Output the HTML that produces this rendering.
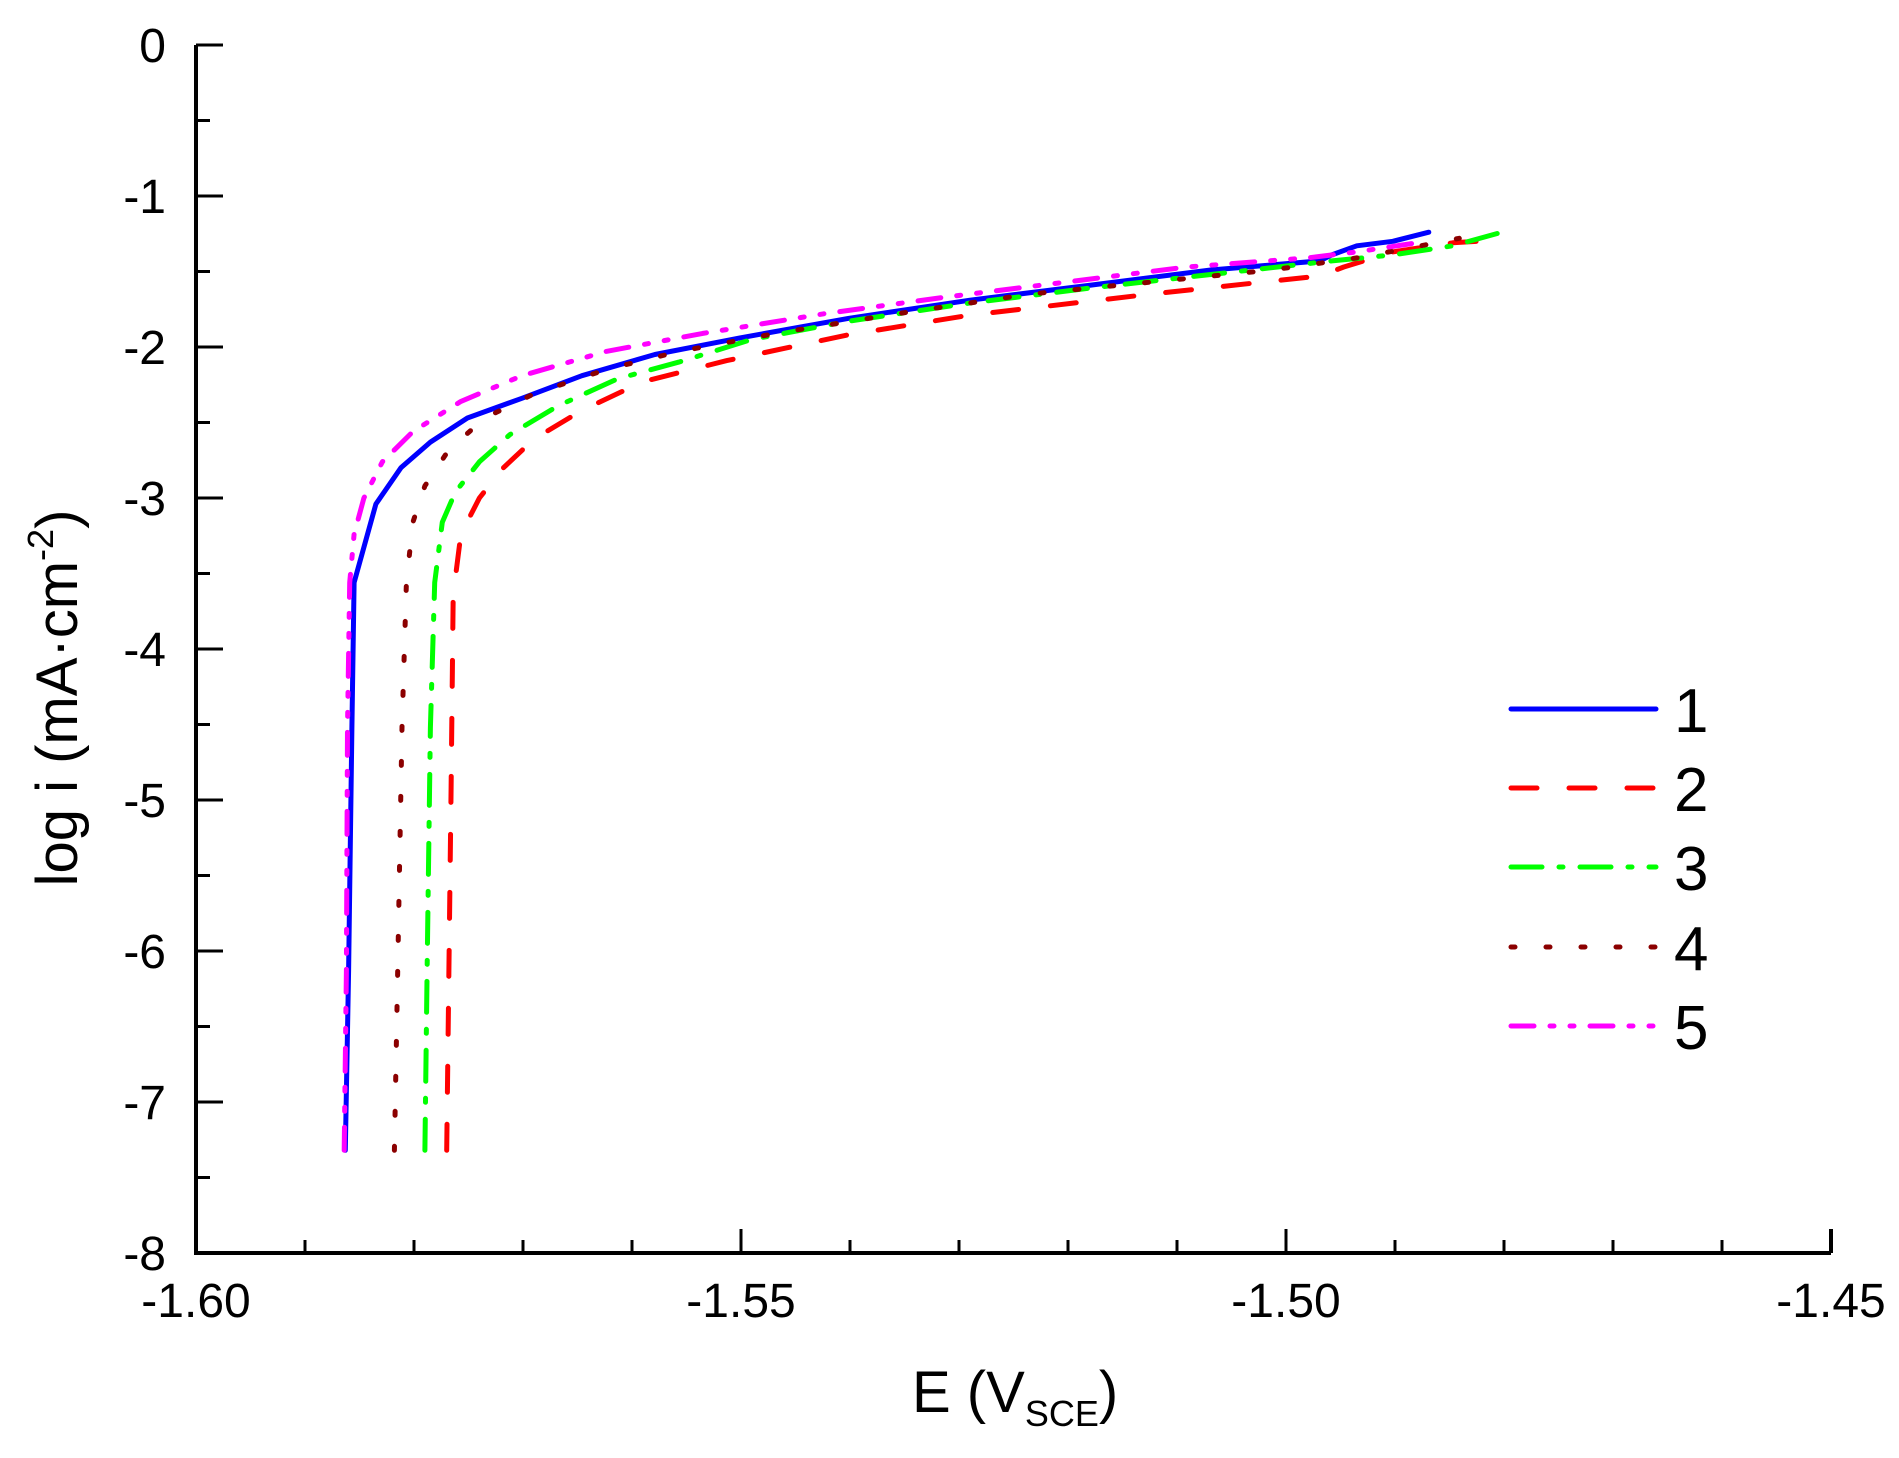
<!DOCTYPE html>
<html><head><meta charset="utf-8"><style>
html,body{margin:0;padding:0;background:#fff;}
svg{display:block;font-family:"Liberation Sans",Arial,sans-serif;}
</style></head><body>
<svg id="chart" width="1899" height="1458" viewBox="0 0 1899 1458">
<g id="axes"></g>
<g id="series"></g>
<g id="legend"></g>
<text x="912" y="1412" font-size="58">E (V<tspan font-size="36" dy="14">SCE</tspan><tspan dy="-14">)</tspan></text>
<text transform="translate(77,698) rotate(-90)" text-anchor="middle" font-size="58">log i (mA·cm<tspan font-size="36" dy="-24">-2</tspan><tspan dy="24">)</tspan></text>
</svg>
<script>
const xTicks = [-1.60, -1.55, -1.50, -1.45];
const xTickLabels = ["-1.60", "-1.55", "-1.50", "-1.45"];
const yTicks = [0, -1, -2, -3, -4, -5, -6, -7, -8];
const yTickLabels = ["0", "-1", "-2", "-3", "-4", "-5", "-6", "-7", "-8"];
const seriesNames = ["1", "2", "3", "4", "5"];
const e1 = [-1.5863,-1.5860,-1.5857,-1.5855,-1.5835,-1.5812,-1.5785,-1.5751,-1.5701,-1.5646,-1.5579,-1.5501,-1.5401,-1.5290,-1.5179,-1.5069,-1.4969,-1.4958,-1.4935,-1.4902,-1.4869];
const i1 = [-7.32,-6.13,-4.52,-3.56,-3.04,-2.80,-2.63,-2.47,-2.34,-2.19,-2.05,-1.94,-1.81,-1.69,-1.59,-1.49,-1.43,-1.39,-1.33,-1.30,-1.24];
const e2 = [-1.5770,-1.5768,-1.5766,-1.5764,-1.5757,-1.5740,-1.5718,-1.5690,-1.5646,-1.5590,-1.5513,-1.5402,-1.5291,-1.5124,-1.4969,-1.4947,-1.4902,-1.4847,-1.4802];
const i2 = [-7.32,-6.13,-4.92,-3.64,-3.24,-3.00,-2.80,-2.61,-2.42,-2.23,-2.09,-1.92,-1.79,-1.65,-1.53,-1.47,-1.37,-1.31,-1.29];
const e3 = [-1.5790,-1.5788,-1.5785,-1.5781,-1.5774,-1.5762,-1.5740,-1.5712,-1.5668,-1.5613,-1.5557,-1.5490,-1.5402,-1.5291,-1.5180,-1.5069,-1.4958,-1.4902,-1.4847,-1.4797];
const i3 = [-7.32,-6.13,-4.52,-3.56,-3.16,-2.96,-2.76,-2.58,-2.39,-2.21,-2.10,-1.95,-1.83,-1.71,-1.61,-1.52,-1.43,-1.39,-1.33,-1.23];
const e4 = [-1.5818,-1.5815,-1.5811,-1.5807,-1.5801,-1.5790,-1.5768,-1.5735,-1.5690,-1.5624,-1.5557,-1.5468,-1.5357,-1.5235,-1.5124,-1.5013,-1.4935,-1.4891,-1.4841];
const i4 = [-7.32,-6.13,-4.52,-3.56,-3.16,-2.92,-2.68,-2.47,-2.31,-2.15,-2.03,-1.91,-1.78,-1.65,-1.57,-1.49,-1.41,-1.35,-1.28];
const e5 = [-1.5864,-1.5862,-1.5861,-1.5859,-1.5855,-1.5846,-1.5829,-1.5801,-1.5757,-1.5701,-1.5624,-1.5535,-1.5424,-1.5313,-1.5202,-1.5091,-1.4980,-1.4935,-1.4880];
const i5 = [-7.32,-6.13,-4.52,-3.56,-3.24,-3.00,-2.76,-2.56,-2.36,-2.19,-2.03,-1.91,-1.78,-1.67,-1.57,-1.47,-1.41,-1.37,-1.31];

const NS = "http://www.w3.org/2000/svg";
const X0 = 196, X1 = 1831, Y0 = 45, Y1 = 1253;
const xMin = -1.60, xMax = -1.45, yMax = 0, yMin = -8;
function sx(v){ return X0 + (v - xMin) / (xMax - xMin) * (X1 - X0); }
function sy(v){ return Y0 + (yMax - v) / (yMax - yMin) * (Y1 - Y0); }
function mk(tag, attrs, parent){ const el = document.createElementNS(NS, tag); for (const k in attrs) el.setAttribute(k, attrs[k]); parent.appendChild(el); return el; }

const axes = document.getElementById('axes');
let el;
el = mk('path', {d:`M${X0},${Y0} V${Y1} H${X1}`, fill:'none', stroke:'#000', 'stroke-width':4}, axes);


for (let k = 1; k < 16; k++) {
  const v = xMin + k * 0.01;
  const big = k % 5 === 0;
  el = mk('line', {x1:sx(v), x2:sx(v), y1:Y1, y2:Y1 - (big ? 24 : 13), stroke:'#000', 'stroke-width':3}, axes);
  
  
}
el = mk('line', {x1:X1, x2:X1, y1:Y1, y2:Y1 - 24, stroke:'#000', 'stroke-width':4}, axes);


for (let k = 0; k < 16; k++) {
  const v = -k * 0.5;
  const big = k % 2 === 0;
  el = mk('line', {x1:X0, x2:X0 + (big ? 27 : 14), y1:sy(v), y2:sy(v), stroke:'#000', 'stroke-width':3}, axes);
  
  
}
xTicks.forEach((v, j) => {
  el = mk('text', {x:sx(v), y:1317, 'text-anchor':'middle', 'font-size':48}, axes);
  el.textContent = xTickLabels[j];
  
  
});
yTicks.forEach((v, j) => {
  el = mk('text', {x:166, y:sy(v) + 17, 'text-anchor':'end', 'font-size':48}, axes);
  el.textContent = yTickLabels[j];
  
  
});

const styles = [
  {c:'#0000ff', d:'none'},
  {c:'#ff0000', d:'26 32'},
  {c:'#00ff00', d:'31 17 4 17'},
  {c:'#8b0000', d:'4 31'},
  {c:'#ff00ff', d:'23 16 4 16 4 16'}
];
const data = [[e1,i1],[e2,i2],[e3,i3],[e4,i4],[e5,i5]];
const sg = document.getElementById('series');
data.forEach((s, j) => {
  const pts = s[0].map((e, k) => `${sx(e).toFixed(1)},${sy(s[1][k]).toFixed(1)}`).join(' ');
  el = mk('polyline', {points:pts, fill:'none', stroke:styles[j].c, 'stroke-width':5, 'stroke-dasharray':styles[j].d, 'stroke-linecap':'round', 'stroke-linejoin':'round'}, sg);
  
  
});

const lg = document.getElementById('legend');
const rowsY = [709, 788, 867, 947, 1026];
seriesNames.forEach((n, j) => {
  el = mk('line', {x1:1511, x2:1656, y1:rowsY[j], y2:rowsY[j], stroke:styles[j].c, 'stroke-width':5, 'stroke-dasharray':styles[j].d, 'stroke-linecap':'round'}, lg);
  
  
  el = mk('text', {x:1674, y:rowsY[j] + 23, 'font-size':62}, lg);
  el.textContent = n;
  
  
});
</script>
</body></html>
